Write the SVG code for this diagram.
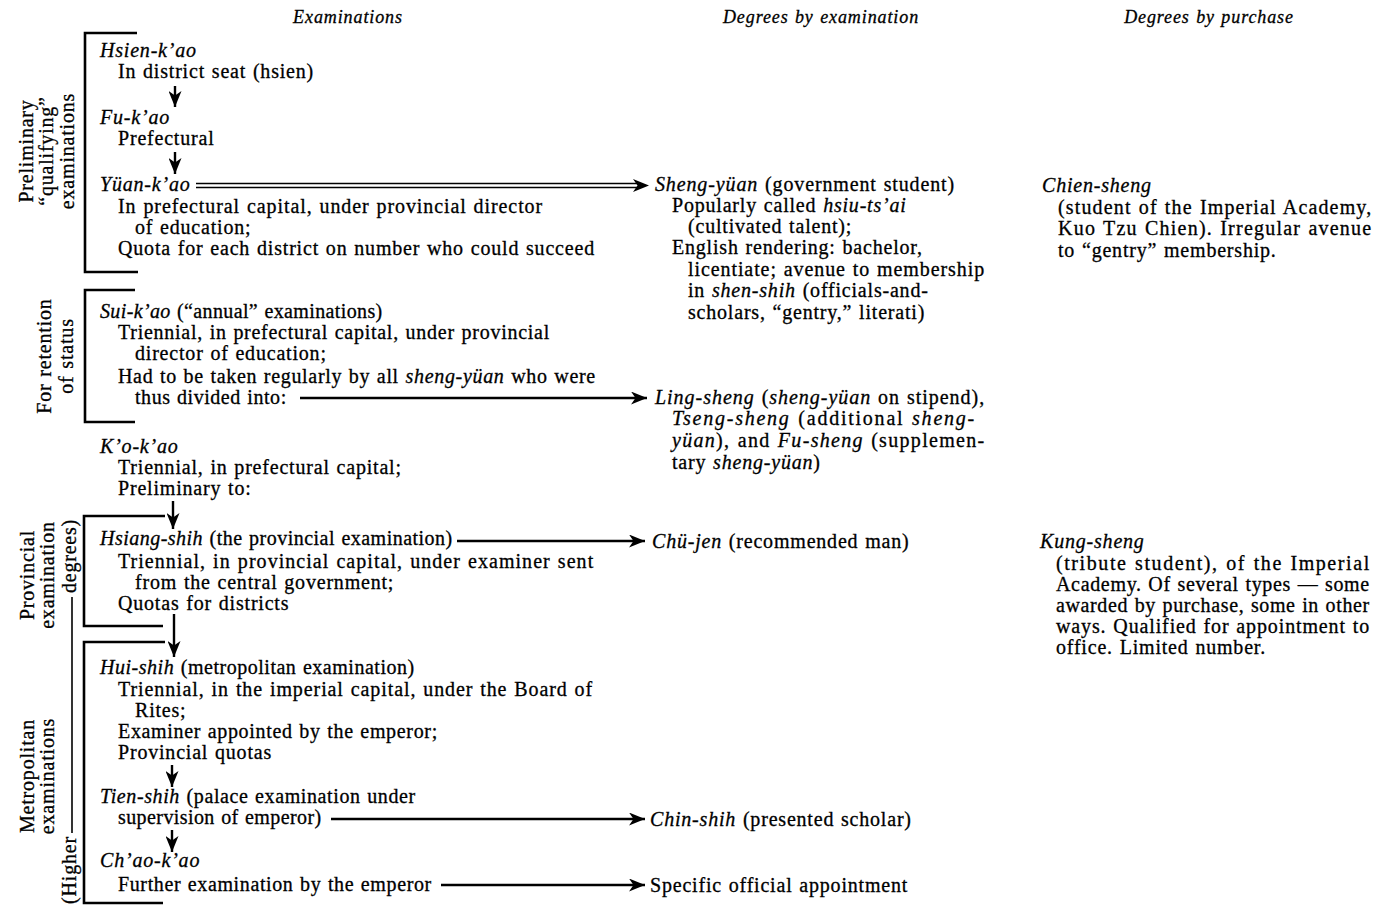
<svg xmlns="http://www.w3.org/2000/svg" width="1393" height="906" viewBox="0 0 1393 906">
<style>
text{font-family:"Liberation Serif","Times New Roman",serif;font-size:20px;fill:#000;stroke:#000;stroke-width:0.3px;letter-spacing:0.8px;word-spacing:1px}
.i{font-style:italic}
.hd{font-style:italic;font-size:18px;text-anchor:middle;letter-spacing:0.9px}
.lb{text-anchor:middle}
.br{fill:none;stroke:#000;stroke-width:2.6}
.ar{stroke:#000;stroke-width:2.4;fill:none}
</style>
<defs>
<marker id="ah" markerUnits="userSpaceOnUse" markerWidth="16" markerHeight="13" refX="16" refY="6.5" orient="auto">
<path d="M0,0 L16,6.5 L0,13 L4.5,6.5 z" fill="#000"/>
</marker>
</defs>
<rect width="1393" height="906" fill="#fff"/>

<g id="headings">
<text class="hd" x="348" y="23">Examinations</text>
<text class="hd" x="821" y="23">Degrees by examination</text>
<text class="hd" x="1209" y="23">Degrees by purchase</text>
</g>

<g id="side-labels">
<g transform="translate(0,151)">
<text class="lb" transform="translate(33,0) rotate(-90)">Preliminary</text>
<text class="lb" transform="translate(53,0) rotate(-90)">“qualifying”</text>
<text class="lb" transform="translate(74,0) rotate(-90)">examinations</text>
</g>
<g transform="translate(0,356)">
<text class="lb" transform="translate(51,0) rotate(-90)">For retention</text>
<text class="lb" transform="translate(73,0) rotate(-90)">of status</text>
</g>
<g>
<text class="lb" transform="translate(34,575) rotate(-90)">Provincial</text>
<text class="lb" transform="translate(54,575) rotate(-90)">examination</text>
<text class="lb" transform="translate(76,556) rotate(-90)">degrees)</text>
</g>
<g>
<text class="lb" transform="translate(34,776) rotate(-90)">Metropolitan</text>
<text class="lb" transform="translate(54,776) rotate(-90)">examinations</text>
<text class="lb" transform="translate(76,870) rotate(-90)">(Higher</text>
</g>
</g>

<g id="brackets">
<polyline class="br" points="137,33 85,33 85,272 138,272"/>
<polyline class="br" points="135,290 85,290 85,422 135,422"/>
<polyline class="br" points="165,516 84,516 84,626 163,626"/>
<polyline class="br" points="165,642 84,642 84,903 163,903"/>
<line x1="72" y1="597" x2="72" y2="833" stroke="#000" stroke-width="1.6"/>
</g>

<g id="connectors">
<line class="ar" x1="175" y1="86" x2="175" y2="107" marker-end="url(#ah)"/>
<line class="ar" x1="175" y1="152" x2="175" y2="174" marker-end="url(#ah)"/>
<line x1="196" y1="183.5" x2="640" y2="183.5" stroke="#000" stroke-width="1.4"/>
<line x1="196" y1="187.5" x2="640" y2="187.5" stroke="#000" stroke-width="1.4"/>
<line x1="632" y1="185.5" x2="649" y2="185.5" stroke="none" marker-end="url(#ah)"/>
<line class="ar" x1="300" y1="398" x2="647" y2="398" marker-end="url(#ah)"/>
<line class="ar" x1="173" y1="501" x2="173" y2="529" marker-end="url(#ah)"/>
<line class="ar" x1="457" y1="541" x2="645" y2="541" marker-end="url(#ah)"/>
<line class="ar" x1="174" y1="614" x2="174" y2="657" marker-end="url(#ah)"/>
<line class="ar" x1="172" y1="765" x2="172" y2="787" marker-end="url(#ah)"/>
<line class="ar" x1="331" y1="819" x2="645" y2="819" marker-end="url(#ah)"/>
<line class="ar" x1="172" y1="830" x2="172" y2="852" marker-end="url(#ah)"/>
<line class="ar" x1="441" y1="885" x2="645" y2="885" marker-end="url(#ah)"/>
</g>

<g id="hsien-kao">
<text class="i" x="100" y="57">Hsien-k’ao</text>
<text x="118" y="78">In district seat (hsien)</text>
</g>
<g id="fu-kao">
<text class="i" x="100" y="124">Fu-k’ao</text>
<text x="118" y="145">Prefectural</text>
</g>
<g id="yuan-kao">
<text class="i" x="100" y="191">Yüan-k’ao</text>
<text x="118" y="213" textLength="425" lengthAdjust="spacing">In prefectural capital, under provincial director</text>
<text x="135" y="234">of education;</text>
<text x="118" y="255" textLength="477" lengthAdjust="spacing">Quota for each district on number who could succeed</text>
</g>
<g id="sui-kao">
<text x="100" y="318" textLength="283" lengthAdjust="spacing"><tspan class="i">Sui-k’ao</tspan> (“annual” examinations)</text>
<text x="118" y="339" textLength="432" lengthAdjust="spacing">Triennial, in prefectural capital, under provincial</text>
<text x="135" y="360">director of education;</text>
<text x="118" y="383" textLength="478" lengthAdjust="spacing">Had to be taken regularly by all <tspan class="i">sheng-yüan</tspan> who were</text>
<text x="135" y="404" textLength="152" lengthAdjust="spacing">thus divided into:</text>
</g>
<g id="ko-kao">
<text class="i" x="100" y="453">K’o-k’ao</text>
<text x="118" y="474">Triennial, in prefectural capital;</text>
<text x="118" y="495">Preliminary to:</text>
</g>
<g id="hsiang-shih">
<text x="100" y="545" textLength="353" lengthAdjust="spacing"><tspan class="i">Hsiang-shih</tspan> (the provincial examination)</text>
<text x="118" y="568" textLength="476" lengthAdjust="spacing">Triennial, in provincial capital, under examiner sent</text>
<text x="135" y="589">from the central government;</text>
<text x="118" y="610">Quotas for districts</text>
</g>
<g id="hui-shih">
<text x="100" y="674" textLength="315" lengthAdjust="spacing"><tspan class="i">Hui-shih</tspan> (metropolitan examination)</text>
<text x="118" y="696" textLength="475" lengthAdjust="spacing">Triennial, in the imperial capital, under the Board of</text>
<text x="135" y="717">Rites;</text>
<text x="118" y="738" textLength="320" lengthAdjust="spacing">Examiner appointed by the emperor;</text>
<text x="118" y="759">Provincial quotas</text>
</g>
<g id="tien-shih">
<text x="100" y="803" textLength="316" lengthAdjust="spacing"><tspan class="i">Tien-shih</tspan> (palace examination under</text>
<text x="118" y="824" textLength="204" lengthAdjust="spacing">supervision of emperor)</text>
</g>
<g id="chao-kao">
<text class="i" x="100" y="867">Ch’ao-k’ao</text>
<text x="118" y="891" textLength="314" lengthAdjust="spacing">Further examination by the emperor</text>
</g>

<g id="sheng-yuan">
<text x="655" y="191" textLength="300" lengthAdjust="spacing"><tspan class="i">Sheng-yüan</tspan> (government student)</text>
<text x="672" y="212">Popularly called <tspan class="i">hsiu-ts’ai</tspan></text>
<text x="688" y="233">(cultivated talent);</text>
<text x="672" y="254">English rendering: bachelor,</text>
<text x="688" y="276" textLength="297" lengthAdjust="spacing">licentiate; avenue to membership</text>
<text x="688" y="297">in <tspan class="i">shen-shih</tspan> (officials-and-</text>
<text x="688" y="319">scholars, “gentry,” literati)</text>
</g>
<g id="ling-sheng">
<text x="655" y="404" textLength="330" lengthAdjust="spacing"><tspan class="i">Ling-sheng</tspan> (<tspan class="i">sheng-yüan</tspan> on stipend),</text>
<text x="672" y="425" textLength="303" lengthAdjust="spacing"><tspan class="i">Tseng-sheng</tspan> (additional <tspan class="i">sheng-</tspan></text>
<text x="672" y="447" textLength="313" lengthAdjust="spacing"><tspan class="i">yüan</tspan>), and <tspan class="i">Fu-sheng</tspan> (supplemen-</text>
<text x="672" y="469">tary <tspan class="i">sheng-yüan</tspan>)</text>
</g>
<g id="chu-jen">
<text x="652" y="548"><tspan class="i">Chü-jen</tspan> (recommended man)</text>
</g>
<g id="chin-shih">
<text x="650" y="826"><tspan class="i">Chin-shih</tspan> (presented scholar)</text>
</g>
<g id="appointment">
<text x="650" y="892">Specific official appointment</text>
</g>

<g id="chien-sheng">
<text class="i" x="1042" y="192">Chien-sheng</text>
<text x="1058" y="214" textLength="314" lengthAdjust="spacing">(student of the Imperial Academy,</text>
<text x="1058" y="235" textLength="314" lengthAdjust="spacing">Kuo Tzu Chien). Irregular avenue</text>
<text x="1058" y="257">to “gentry” membership.</text>
</g>
<g id="kung-sheng">
<text class="i" x="1040" y="548">Kung-sheng</text>
<text x="1056" y="570" textLength="314" lengthAdjust="spacing">(tribute student), of the Imperial</text>
<text x="1056" y="591" textLength="314" lengthAdjust="spacing">Academy. Of several types — some</text>
<text x="1056" y="612" textLength="314" lengthAdjust="spacing">awarded by purchase, some in other</text>
<text x="1056" y="633" textLength="314" lengthAdjust="spacing">ways. Qualified for appointment to</text>
<text x="1056" y="654">office. Limited number.</text>
</g>
</svg>
